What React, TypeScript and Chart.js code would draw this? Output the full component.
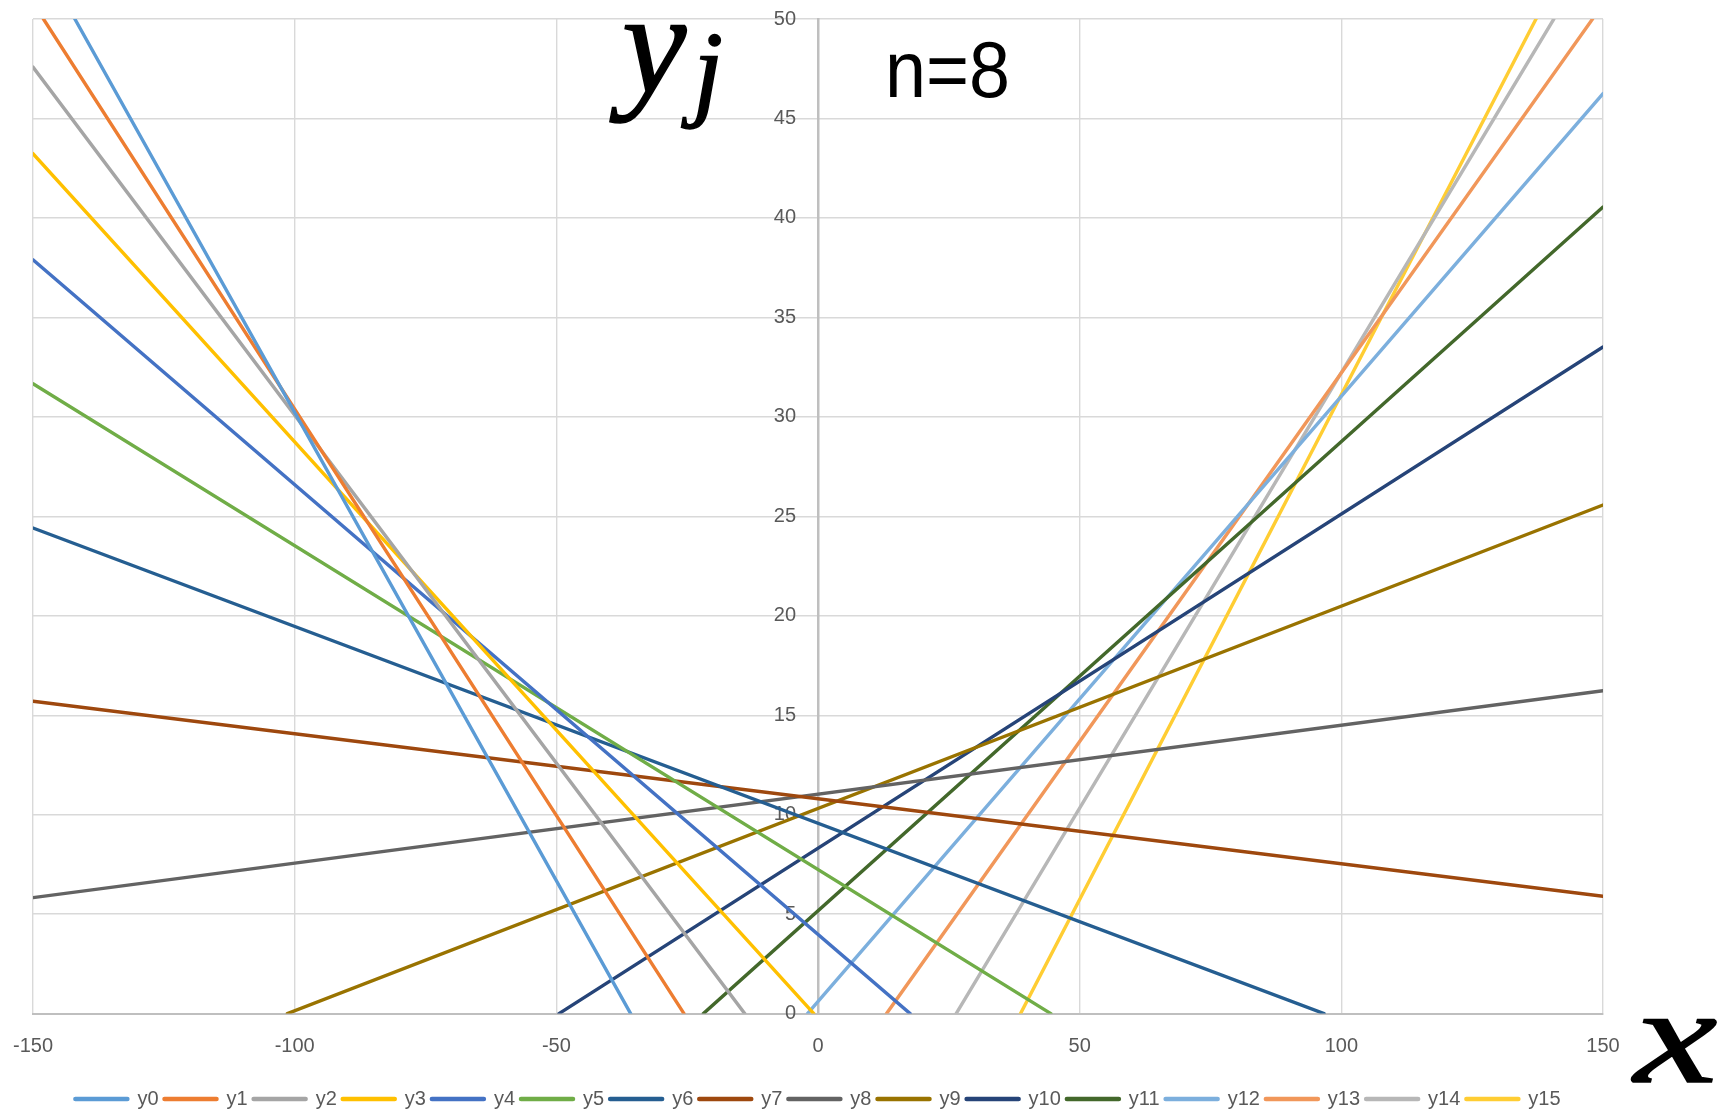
import React, { useEffect, useRef } from "react";
import { Chart, registerables } from "chart.js";

Chart.register(...registerables);

// ---- data ----
const seriesNames = ["y0", "y1", "y2", "y3", "y4", "y5", "y6", "y7", "y8", "y9", "y10", "y11", "y12", "y13", "y14", "y15"];
const seriesColors = [
  "#5B9BD5", "#ED7D31", "#A5A5A5", "#FFC000", "#4472C4", "#70AD47", "#255E91", "#9E480E",
  "#636363", "#997300", "#264478", "#43682B", "#7CAFDD", "#F1975A", "#B7B7B7", "#FFCD33",
];
// each series is a straight segment from (startX, startY) to (endX, endY)
const startX = [-142.0, -148.0, -150, -150, -150, -150, -150, -150, -150, -101.4, -49.5, -21.9, -2.0, 13.1, 26.4, 38.7];
const startY = [50, 50, 47.58, 43.23, 37.9, 31.66, 24.41, 15.7, 5.83, 0, 0, 0, 0, 0, 0, 0];
const endX = [-35.8, -25.6, -14.0, -0.8, 17.6, 44.5, 96.7, 150, 150, 150, 150, 150, 150, 148.0, 140.6, 137.2];
const endY = [0, 0, 0, 0, 0, 0, 0, 5.9, 16.23, 25.57, 33.51, 40.55, 46.25, 50, 50, 50];

const xMin = -150;
const xMax = 150;
const xStep = 50;
const yMin = 0;
const yMax = 50;
const yStep = 5;

const titleY = "y";
const titleSub = "j";
const noteText = "n=8";
const axisXText = "x";

const overlayText = {
  id: "overlayText",
  afterDraw(chart: any) {
    const ctx = chart.ctx;
    ctx.save();
    ctx.fillStyle = "#000000";
    ctx.strokeStyle = "#000000";
    ctx.lineWidth = 1.5;
    ctx.textBaseline = "alphabetic";
    ctx.textAlign = "left";
    ctx.font = 'italic 145px "Liberation Serif"';
    ctx.fillText(titleY, 622, 92);
    ctx.strokeText(titleY, 622, 92);
    ctx.font = 'italic 108px "Liberation Serif"';
    ctx.fillText(titleSub, 693, 106);
    ctx.strokeText(titleSub, 693, 106);
    ctx.font = '80px "Liberation Sans"';
    ctx.fillText(noteText, 885, 97, 125);
    ctx.save();
    ctx.translate(1634, 1082);
    ctx.scale(1.38, 1);
    ctx.font = 'italic 136px "Liberation Serif"';
    ctx.fillText(axisXText, 0, 0);
    ctx.strokeText(axisXText, 0, 0);
    ctx.restore();
    ctx.restore();
  },
};

// move the y tick labels (axis drawn at x = 0) a little to the left of the axis line
const shiftYLabels = {
  id: "shiftYLabels",
  beforeDraw(chart: any) {
    const s = chart.scales.y;
    if (!s || !s.getLabelItems) return;
    const items = s.getLabelItems();
    if (items && !items._shifted) {
      items.forEach((it: any) => {
        it.options.translation[0] -= 22;
      });
      items._shifted = true;
    }
  },
};

export default function App() {
  const canvasRef = useRef<HTMLCanvasElement | null>(null);

  useEffect(() => {
    if (!canvasRef.current) return;
    Chart.defaults.font.family = '"Liberation Sans", Arial, sans-serif';
    const defaultLabels = (Chart.defaults as any).plugins.legend.labels.generateLabels;
    const datasets = seriesNames.map((name, i) => ({
      label: name,
      data: [
        { x: startX[i], y: startY[i] },
        { x: endX[i], y: endY[i] },
      ],
      borderColor: seriesColors[i],
      backgroundColor: seriesColors[i],
      borderWidth: 3.4,
      borderCapStyle: "round" as const,
      pointRadius: 0,
      pointHoverRadius: 0,
      showLine: true,
      fill: false,
    }));

    const chart = new Chart(canvasRef.current, {
      type: "scatter",
      data: { datasets },
      options: {
        animation: false,
        responsive: false,
        maintainAspectRatio: false,
        events: [],
        layout: { padding: { left: 33, right: 119, top: 19, bottom: -6 } },
        scales: {
          x: {
            type: "linear",
            position: "bottom",
            min: xMin,
            max: xMax,
            ticks: {
              stepSize: xStep,
              color: "#595959",
              font: { size: 20 },
              padding: 4,
              maxRotation: 0,
            },
            grid: {
              color: "#D9D9D9",
              lineWidth: 1.4,
              drawTicks: true,
              tickLength: 17,
              tickColor: "rgba(0,0,0,0)",
            },
            border: { display: true, color: "#BFBFBF", width: 2 },
            afterFit: (s: any) => {
              s.height = 69.4;
            },
          },
          y: {
            type: "linear",
            position: { x: 0 } as any,
            min: yMin,
            max: yMax,
            ticks: {
              stepSize: yStep,
              color: "#595959",
              font: { size: 20 },
              padding: 0,
            },
            grid: { color: "#D9D9D9", lineWidth: 1.4, drawTicks: false },
            border: { display: true, color: "#BFBFBF", width: 2.5 },
            afterFit: (s: any) => {
              s.width = 0;
            },
          },
        },
        plugins: {
          legend: {
            display: true,
            position: "bottom",
            labels: {
              usePointStyle: true,
              pointStyle: "line",
              pointStyleWidth: 52,
              boxHeight: 20,
              padding: 6,
              color: "#595959",
              font: { size: 20 },
              generateLabels: (c: any) =>
                defaultLabels(c).map((l: any) => ({ ...l, lineWidth: 4.5, lineCap: "round" })),
            },
          },
          tooltip: { enabled: false },
          title: { display: false },
        },
      },
      plugins: [shiftYLabels, overlayText],
    });
    return () => chart.destroy();
  }, []);

  return (
    <div style={{ position: "fixed", left: 0, top: 0, width: 1722, height: 1113, background: "#ffffff" }}>
      <canvas ref={canvasRef} width={1722} height={1113} />
    </div>
  );
}
